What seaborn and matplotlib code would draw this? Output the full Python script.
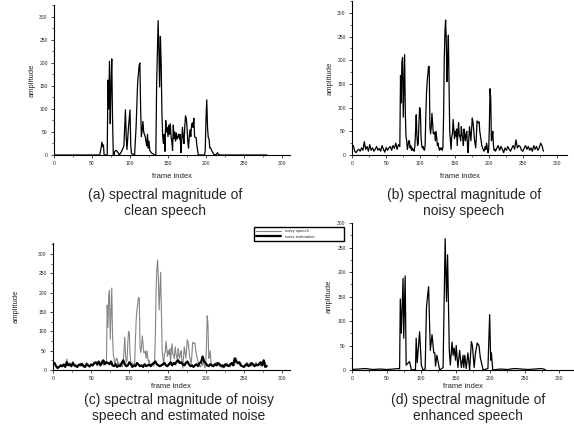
import numpy as np
import pandas as pd
import seaborn as sns
import matplotlib
matplotlib.use("Agg")
import matplotlib.pyplot as plt
from matplotlib.ticker import MultipleLocator

sns.set_style("ticks")
plt.rcParams['font.family'] = ['Liberation Sans', 'DejaVu Sans']

# ---- data ----
# (a) clean speech
clean_frames = [0, 60, 62, 63, 64, 65, 66, 70, 71, 72, 73, 74, 75, 76, 77, 78, 79, 80, 82, 84, 86, 88,
                90, 92, 94, 95, 96, 98, 100, 101, 102, 104, 106, 108, 110, 112, 113, 114, 115, 116, 117,
                118, 120, 121, 122, 123, 124, 125, 126, 128, 130, 132, 134, 135, 137, 138, 139, 140, 141,
                142, 143, 144, 145, 146, 147, 148, 149, 150, 151, 152, 153, 154, 155, 156, 157, 158, 159,
                160, 161, 162, 163, 164, 165, 166, 167, 168, 169, 170, 171, 172, 173, 174, 175, 176, 177,
                178, 179, 180, 181, 182, 183, 184, 185, 186, 187, 188, 190, 198, 199, 200, 201, 202, 203,
                204, 205, 206, 207, 208, 210, 212, 214, 215, 216, 218, 280]
clean_amp = [0, 0, 15, 28, 18, 22, 0, 0, 163, 100, 204, 68, 150, 209, 80, 0, 0, 8, 10, 6, 0, 5,
             12, 20, 98, 40, 12, 60, 98, 20, 3, 2, 0, 60, 155, 195, 200, 100, 40, 55, 73,
             50, 40, 30, 20, 45, 15, 30, 10, 5, 3, 0, 0, 150, 292, 230, 148, 258, 200,
             90, 40, 25, 45, 8, 75, 50, 60, 40, 65, 45, 68, 40, 30, 10, 65, 35, 50,
             30, 48, 35, 40, 45, 35, 45, 5, 30, 60, 40, 25, 60, 85, 80, 60, 30, 15,
             40, 55, 40, 65, 70, 60, 80, 40, 38, 38, 20, 0, 0, 10, 80, 120, 60, 38,
             35, 15, 15, 12, 8, 2, 0, 2, 5, 2, 0, 0]

# (b)/(c) noisy speech
noisy_floor_start = [18, 20, 8, 5, 10, 12, 8, 15, 10, 28, 12, 18, 8, 22, 10, 15, 8, 12, 18, 10,
                     14, 8, 20, 12, 6, 16, 10, 15, 18, 10, 20, 14, 25, 12, 22]          # frames 0..68
noisy_speech = [18, 168, 110, 195, 206, 80, 150, 212, 90, 40, 30, 12, 20, 30, 30, 15, 20, 10, 15, 10,
                12, 8, 20, 50, 85, 40, 20, 25, 70, 100, 95, 40, 20, 15, 18, 12, 10, 20, 80, 130,
                155, 170, 187, 187, 60, 45, 60, 88, 65, 45, 45, 48, 30, 50, 35, 20, 25, 15, 10, 15,
                12, 15, 10, 15, 80, 200, 260, 285, 240, 155, 200, 253, 150, 50, 30, 12, 40, 45, 75, 55,
                35, 50, 40, 55, 20, 50, 68, 40, 40, 30, 60, 45, 35, 20, 55, 40, 30, 45, 50, 20,
                5, 35, 60, 45, 30, 55, 78, 70, 55, 35, 25, 15, 40, 72, 70, 68, 70, 50, 40, 30,
                20, 15, 12, 8, 10, 18, 12, 25, 15, 5, 10, 60, 140, 120, 30, 35, 50, 20, 10, 12]  # frames 70..209
noisy_floor_end = [8, 15, 20, 10, 18, 12, 5, 15, 10, 18, 12, 8, 15, 20, 12, 32, 15, 20, 18, 10,
                   8, 15, 20, 12, 18, 10, 15, 8, 20, 12, 18, 10, 15, 25, 20, 8]        # frames 210..280

# (c) noise estimation, every second frame 0..280
noise_est = [15, 18, 10, 5, 8, 12, 10, 14, 8, 20, 12, 15, 10, 18, 12, 10, 8, 14, 12, 16,
             10, 8, 15, 12, 10, 14, 12, 18, 20, 15, 22, 12, 18, 25, 15,
             20, 18, 15, 22, 12, 10, 15, 8, 12, 10, 18, 25, 15, 10, 12, 20, 15, 8, 12, 10,
             18, 14, 10, 12, 8, 15, 10, 12, 14, 10, 15, 18, 22, 15, 12,
             10, 12, 15, 18, 12, 10, 15, 20, 12, 18, 15, 22, 25, 18, 20, 15, 12, 18, 22, 15,
             10, 12, 8, 12, 15, 10, 18, 20, 35, 22, 18, 12, 10, 15, 12,
             10, 15, 12, 18, 15, 10, 12, 8, 15, 12, 10, 14, 18, 12, 30, 22, 18, 20, 12, 10,
             8, 12, 15, 10, 12, 18, 15, 10, 14, 12, 15, 20, 12, 25, 8, 10]

# (d) enhanced speech
enh_frames = [0, 10, 20, 30, 40, 50, 60, 68, 69, 70, 71.5, 74, 75, 77, 78.5, 82, 83.5, 86, 92, 93, 94.5,
              98, 100.5, 103, 106, 108, 111, 113.5, 116, 118.5, 120, 121, 123, 127, 132, 135, 137,
              138.5, 141, 142.5, 145, 146.5, 148, 150, 151, 153.5, 156, 158.5, 161, 162, 163.5, 165.5,
              168, 170.5, 173, 174.5, 177, 179, 181.5, 184, 186, 190, 197, 199.5, 201, 202, 204,
              215, 225, 235, 245, 255, 265, 275, 280]
enh_amp = [1, 2, 3, 1, 2, 1, 2, 3, 2, 145, 75, 187, 65, 192, 10, 15, 17, 0, 1, 65, 15,
           78, 10, 0, 2, 130, 170, 40, 72, 35, 35, 8, 30, 0, 5, 268, 140,
           235, 40, 10, 57, 30, 45, 20, 50, 5, 40, 5, 30, 5, 30, 3,
           35, 0, 58, 50, 5, 35, 55, 50, 25, 0, 3, 113, 20, 35, 0,
           2, 1, 3, 2, 1, 2, 3, 1]

captions = ["(a) spectral magnitude of\nclean speech",
            "(b) spectral magnitude of\nnoisy speech",
            "(c) spectral magnitude of noisy\nspeech and estimated noise",
            "(d) spectral magnitude of\nenhanced speech"]

noisy_frames = list(range(0, 70, 2)) + list(range(70, 210)) + list(range(210, 281, 2))
noisy_amp = noisy_floor_start + noisy_speech + noisy_floor_end
noise_frames = list(range(0, 281, 2))

df_clean = pd.DataFrame({"frame": clean_frames, "amp": clean_amp})
df_noisy = pd.DataFrame({"frame": noisy_frames, "amp": noisy_amp})
df_noise = pd.DataFrame({"frame": noise_frames, "amp": noise_est})
df_enh = pd.DataFrame({"frame": enh_frames, "amp": enh_amp})

W, H = 574, 436
fig = plt.figure(figsize=(W / 100, H / 100), dpi=100)

def px_axes(x0, y0, x300, y300, xmax, ymax):
    # place axes from pixel positions of (0,0) and (300,300)
    sx = (x300 - x0) / 300.0
    sy = (y0 - y300) / 300.0
    return fig.add_axes([x0 / W, 1 - y0 / H, sx * xmax / W, sy * ymax / H])

def style(ax, xmax, ymax, ylab_x, xpad):
    ax.set_xlim(0, xmax)
    ax.set_ylim(0, ymax)
    sns.despine(ax=ax)
    for s in ("left", "bottom"):
        ax.spines[s].set_linewidth(0.8)
        ax.spines[s].set_color("black")
    ax.xaxis.set_major_locator(MultipleLocator(50))
    ax.xaxis.set_minor_locator(MultipleLocator(25))
    ax.yaxis.set_major_locator(MultipleLocator(50))
    ax.yaxis.set_minor_locator(MultipleLocator(25))
    ax.tick_params(which="major", direction="out", length=2.5, width=0.6, labelsize=3.6, pad=2)
    ax.tick_params(which="minor", direction="out", length=1.5, width=0.5)
    ax.set_xlabel("frame index", fontsize=5.5, labelpad=xpad)
    ax.set_ylabel("amplitude", fontsize=5.5)
    ax.yaxis.set_label_coords(ylab_x, 0.5)

# (a)
ax_a = px_axes(54, 155, 282, 17, 310, 325)
sns.lineplot(data=df_clean, x="frame", y="amp", ax=ax_a, color="black", lw=0.9, estimator=None, sort=False)
style(ax_a, 310, 325, -0.08, 5)

# (b)
ax_b = px_axes(352, 155, 557, 13, 315, 325)
sns.lineplot(data=df_noisy, x="frame", y="amp", ax=ax_b, color="black", lw=0.9, estimator=None, sort=False)
style(ax_b, 315, 325, -0.085, 5)

# (c)
ax_c = px_axes(53, 370, 282, 254, 310, 328)
sns.lineplot(data=df_noisy, x="frame", y="amp", ax=ax_c, color="#858585", lw=0.8,
             estimator=None, sort=False, label="noisy speech")
sns.lineplot(data=df_noise, x="frame", y="amp", ax=ax_c, color="black", lw=1.6,
             estimator=None, sort=False, label="noise estimation")
style(ax_c, 310, 328, -0.14, 1.5)
handles, labels = ax_c.get_legend_handles_labels()
ax_c.get_legend().remove()
leg = fig.legend(handles, labels, loc="lower left", mode="expand",
                 bbox_to_anchor=(254 / W, 1 - 241 / H, 90 / W, 15 / H),
                 fontsize=3, frameon=True, fancybox=False, framealpha=1, edgecolor="black",
                 handlelength=6, borderpad=0.6, labelspacing=0.25, borderaxespad=0)
leg.get_frame().set_linewidth(1.0)

# (d)
ax_d = px_axes(352, 370, 559, 223, 322, 300)
sns.lineplot(data=df_enh, x="frame", y="amp", ax=ax_d, color="black", lw=0.9, estimator=None, sort=False)
style(ax_d, 322, 300, -0.085, 1.5)

# captions
cap = dict(ha="center", va="center", fontsize=10, linespacing=1.15)
fig.text(165 / W, 1 - 203 / H, captions[0], **cap)
fig.text(464 / W, 1 - 203 / H, captions[1], **cap)
fig.text(179 / W, 1 - 408 / H, captions[2], **cap)
fig.text(468 / W, 1 - 408 / H, captions[3], **cap)

fig.savefig("out.png", dpi=100)
